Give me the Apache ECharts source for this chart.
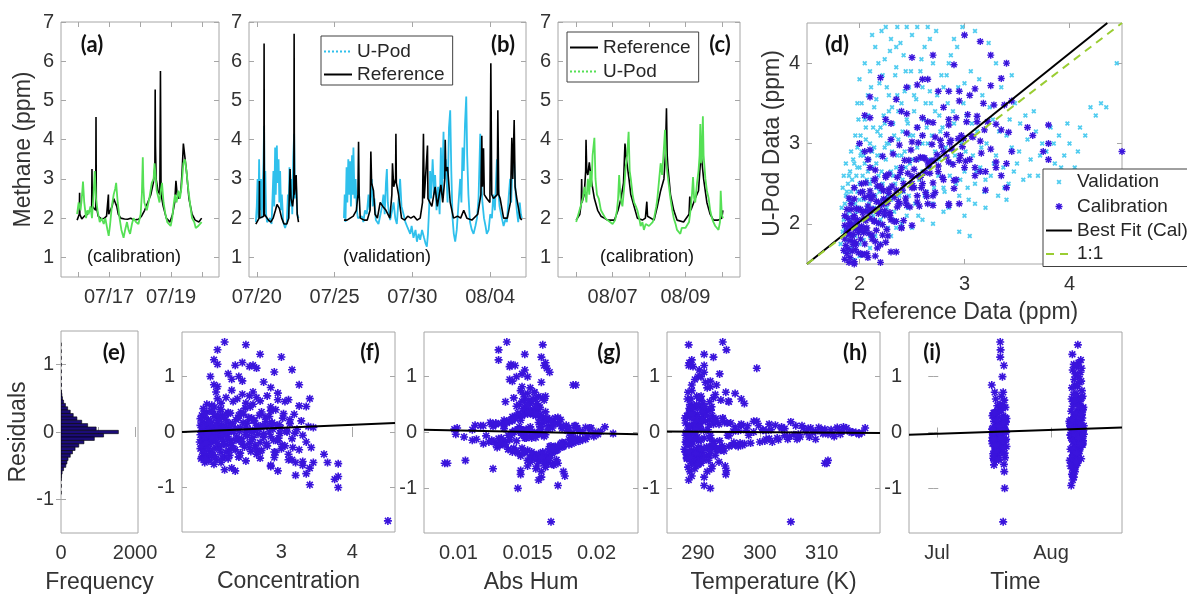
<!DOCTYPE html>
<html><head><meta charset="utf-8">
<script src="https://cdn.jsdelivr.net/npm/echarts@6/dist/echarts.min.js"></script>
<style>html,body{margin:0;padding:0;background:#fff}#c{width:1187px;height:598px}</style>
</head><body><div id="c"></div>
<script>
// ---------------- DATA ----------------
// x of time panels = day number counted from 1 July (Aug 1 = 32)
const methTicks = [1,2,3,4,5,6,7];
const aDayTicks = [16,17,18,19,20], aLabelVals = [17,19], aLabels = ['07/17','07/19'];
const bDayTicks = [20,25,30,35], bLabels = ['07/20','07/25','07/30','08/04'];
const cDayTicks = [37,38,39,40,41], cLabelVals = [38,40], cLabels = ['08/07','08/09'];
const iTicks = [1,32], iLabels = ['Jul','Aug'];

const aRef = [[15.97,1.95],[16.02,2.0],[16.04,2.1],[16.05,2.65],[16.06,2.1],[16.12,1.98],[16.2,2.05],[16.3,2.1],[16.38,2.2],[16.44,2.3],[16.45,3.25],[16.46,2.3],[16.52,2.3],[16.57,2.2],[16.58,4.58],[16.59,2.3],[16.65,2.05],[16.75,1.98],[16.85,2.0],[16.92,2.05],[16.97,2.1],[16.98,2.6],[16.99,2.1],[17.05,2.05],[17.1,2.3],[17.15,2.5],[17.2,2.55],[17.25,2.3],[17.3,2.1],[17.38,2.0],[17.5,1.98],[17.6,1.97],[17.7,2.0],[17.8,1.95],[17.95,1.97],[18.05,2.05],[18.15,2.2],[18.25,2.4],[18.35,2.6],[18.43,2.9],[18.48,3.3],[18.49,5.28],[18.5,3.85],[18.52,3.0],[18.58,2.7],[18.64,2.6],[18.66,5.75],[18.68,2.6],[18.75,2.3],[18.85,2.0],[18.97,1.9],[19.05,2.1],[19.12,2.4],[19.16,2.95],[19.2,2.6],[19.26,2.5],[19.32,2.7],[19.36,3.2],[19.4,3.9],[19.45,3.85],[19.5,3.2],[19.58,2.5],[19.68,2.1],[19.78,1.95],[19.9,1.9],[19.99,2.0]];
const aPod = [[15.97,2.1],[16.02,2.4],[16.08,2.2],[16.12,2.5],[16.16,2.93],[16.2,2.4],[16.26,2.0],[16.3,2.2],[16.34,2.1],[16.4,2.3],[16.45,2.0],[16.5,2.6],[16.54,3.2],[16.58,2.5],[16.63,2.2],[16.7,1.9],[16.76,2.0],[16.83,1.85],[16.88,2.0],[16.95,1.7],[16.99,1.55],[17.03,1.8],[17.09,2.3],[17.15,2.6],[17.2,2.75],[17.23,2.9],[17.28,2.4],[17.34,2.0],[17.4,1.7],[17.47,1.5],[17.52,1.7],[17.58,1.9],[17.63,1.7],[17.68,1.6],[17.74,1.85],[17.79,2.0],[17.87,1.9],[17.95,1.85],[18.02,2.1],[18.06,2.6],[18.09,3.55],[18.11,2.8],[18.14,2.4],[18.22,2.2],[18.3,2.5],[18.38,2.9],[18.44,3.0],[18.47,3.4],[18.51,3.0],[18.54,2.7],[18.6,2.5],[18.63,2.4],[18.67,2.7],[18.71,2.9],[18.76,2.4],[18.82,2.1],[18.88,1.9],[18.94,1.85],[18.99,1.8],[19.04,2.0],[19.08,2.3],[19.13,2.6],[19.18,2.4],[19.24,2.7],[19.29,2.5],[19.34,2.8],[19.4,3.4],[19.45,3.5],[19.5,3.2],[19.55,2.8],[19.61,2.4],[19.68,2.0],[19.75,1.9],[19.8,1.75],[19.88,1.8],[19.94,1.85],[19.99,1.9]];

const bRef = [[19.94,1.85],[20.05,1.9],[20.15,2.0],[20.17,2.95],[20.19,2.0],[20.3,1.95],[20.45,2.05],[20.47,6.45],[20.49,2.1],[20.6,2.1],[20.75,1.95],[20.9,1.9],[21.05,2.0],[21.2,2.2],[21.3,2.35],[21.45,2.25],[21.6,2.0],[21.75,1.85],[21.93,1.85],[22.05,2.0],[22.14,3.25],[22.2,2.5],[22.3,2.3],[22.38,2.6],[22.4,6.7],[22.42,2.6],[22.53,3.1],[22.6,2.1],[22.68,1.9],[24,null],[25.6,1.95],[25.8,1.95],[26.0,2.0],[26.2,2.05],[26.4,2.2],[26.5,2.6],[26.54,3.95],[26.58,2.6],[26.65,2.0],[26.9,1.95],[27.1,1.95],[27.28,2.2],[27.33,3.7],[27.38,2.9],[27.5,2.7],[27.6,2.1],[27.75,2.0],[27.93,2.4],[28.1,2.3],[28.3,2.2],[28.55,2.0],[28.68,2.6],[28.72,3.4],[28.8,2.8],[28.92,3.0],[28.94,4.15],[28.97,2.9],[29.11,2.6],[29.3,2.0],[29.5,1.95],[29.7,2.05],[29.9,2.0],[30.1,2.05],[30.3,1.95],[30.5,2.0],[30.65,2.4],[30.71,4.15],[30.76,2.5],[30.97,3.85],[31.0,2.5],[31.25,2.3],[31.46,2.8],[31.6,2.3],[31.83,2.85],[31.95,2.4],[32.08,3.0],[32.11,4.0],[32.15,3.2],[32.26,3.3],[32.43,2.4],[32.64,2.0],[32.9,2.05],[33.1,2.0],[33.3,2.2],[33.5,2.0],[33.82,1.95],[34.2,2.1],[34.4,2.6],[34.46,4.1],[34.5,2.8],[34.57,3.78],[34.62,2.6],[34.78,2.5],[34.98,2.4],[35.04,5.95],[35.1,2.6],[35.21,2.5],[35.45,2.6],[35.49,4.75],[35.55,2.6],[35.64,2.5],[35.86,2.0],[36.1,2.0],[36.3,2.4],[36.39,4.05],[36.45,3.0],[36.54,4.5],[36.6,2.8],[36.71,2.5],[36.93,2.0],[37.03,1.95]];
const bPod = [[19.94,1.9],[20.0,2.3],[20.05,3.0],[20.1,2.0],[20.15,3.5],[20.2,2.2],[20.27,3.0],[20.32,2.0],[20.38,2.8],[20.43,3.4],[20.47,4.35],[20.5,2.6],[20.55,3.2],[20.6,2.1],[20.66,1.9],[20.75,1.95],[20.86,2.0],[20.95,1.85],[21.0,2.4],[21.07,3.2],[21.12,2.3],[21.18,3.8],[21.22,2.6],[21.29,3.85],[21.33,2.9],[21.4,3.5],[21.45,2.4],[21.5,3.2],[21.56,2.2],[21.61,2.6],[21.7,1.9],[21.82,1.75],[21.93,1.9],[22.0,2.6],[22.04,2.0],[22.1,3.3],[22.16,2.3],[22.22,3.0],[22.28,2.1],[22.34,3.5],[22.4,4.15],[22.45,2.5],[22.52,2.9],[22.6,2.1],[22.68,2.0],[24,null],[25.6,2.0],[25.65,2.6],[25.7,1.9],[25.77,3.3],[25.82,2.4],[25.88,3.5],[25.95,2.6],[26.0,3.45],[26.05,2.3],[26.12,3.6],[26.16,2.6],[26.21,3.8],[26.28,2.5],[26.35,3.0],[26.43,2.2],[26.5,2.0],[26.6,1.95],[26.75,2.05],[26.85,1.9],[26.95,2.2],[27.07,2.1],[27.18,2.6],[27.25,2.2],[27.39,3.0],[27.45,2.3],[27.56,2.5],[27.65,1.95],[27.82,1.85],[27.95,2.1],[28.05,2.3],[28.14,2.6],[28.22,2.1],[28.3,2.9],[28.36,3.25],[28.42,2.4],[28.5,2.1],[28.57,1.95],[28.7,2.2],[28.79,2.4],[28.9,2.0],[29.0,1.85],[29.08,2.3],[29.21,3.0],[29.3,2.3],[29.43,2.1],[29.55,1.9],[29.7,1.75],[29.86,1.6],[29.95,1.8],[30.07,1.5],[30.2,1.7],[30.29,1.4],[30.4,1.6],[30.5,1.45],[30.62,1.7],[30.75,1.5],[30.85,1.35],[30.93,1.27],[31.0,1.6],[31.08,2.3],[31.14,3.2],[31.2,2.5],[31.3,3.5],[31.4,2.6],[31.46,3.1],[31.55,2.2],[31.65,2.8],[31.75,2.1],[31.83,3.8],[31.9,2.6],[32.0,4.2],[32.05,3.0],[32.15,3.5],[32.26,2.4],[32.35,4.3],[32.43,4.75],[32.5,3.2],[32.58,2.0],[32.66,1.6],[32.75,1.4],[32.85,1.7],[32.95,2.3],[33.07,3.0],[33.15,2.4],[33.22,3.8],[33.3,3.2],[33.38,4.4],[33.46,5.1],[33.52,3.6],[33.6,2.6],[33.7,1.9],[33.82,1.7],[33.93,1.6],[34.05,1.8],[34.15,2.0],[34.25,2.5],[34.36,4.15],[34.42,3.0],[34.5,2.4],[34.6,2.0],[34.7,1.8],[34.78,1.6],[34.9,1.7],[35.0,2.1],[35.11,2.0],[35.2,2.6],[35.3,2.2],[35.43,3.5],[35.5,2.8],[35.6,2.3],[35.75,2.0],[35.86,1.8],[36.0,2.0],[36.07,1.9],[36.18,2.5],[36.28,3.0],[36.35,2.4],[36.45,3.6],[36.5,3.9],[36.56,3.2],[36.65,2.5],[36.71,2.2],[36.8,1.9],[36.9,2.4],[36.97,2.1],[37.03,2.0]];

const cRef = [[37.0,1.95],[37.05,1.9],[37.1,2.1],[37.14,2.4],[37.15,3.0],[37.16,2.4],[37.18,2.4],[37.22,2.6],[37.26,3.2],[37.27,4.0],[37.29,3.2],[37.32,3.1],[37.36,3.42],[37.41,3.0],[37.5,2.5],[37.59,2.2],[37.68,2.05],[37.77,2.0],[37.86,1.95],[38.05,1.95],[38.15,2.2],[38.23,2.5],[38.3,2.9],[38.34,3.9],[38.38,3.5],[38.45,3.0],[38.5,2.6],[38.59,2.3],[38.68,2.0],[38.82,1.95],[38.9,2.0],[38.94,2.42],[38.96,2.05],[39.0,2.0],[39.14,1.95],[39.23,2.3],[39.32,2.7],[39.41,3.0],[39.45,3.6],[39.48,4.8],[39.5,3.6],[39.52,3.3],[39.59,2.6],[39.68,2.2],[39.77,1.95],[39.95,1.9],[40.1,2.1],[40.12,2.55],[40.15,2.2],[40.27,2.5],[40.36,2.7],[40.43,3.66],[40.5,3.0],[40.59,2.4],[40.68,2.1],[40.77,1.95],[40.9,1.95],[41.0,2.0],[41.03,2.2]];
const cPod = [[37.0,1.9],[37.05,1.85],[37.12,2.3],[37.18,2.5],[37.23,2.8],[37.28,2.4],[37.32,3.0],[37.36,2.6],[37.39,3.2],[37.42,2.8],[37.45,3.6],[37.5,4.05],[37.53,3.0],[37.57,2.6],[37.62,2.5],[37.68,2.2],[37.74,2.1],[37.8,2.0],[37.86,1.95],[37.93,1.9],[38.0,1.85],[38.07,1.95],[38.12,2.2],[38.15,2.5],[38.18,3.1],[38.22,2.5],[38.27,2.3],[38.32,2.8],[38.36,3.3],[38.4,3.6],[38.44,4.2],[38.47,3.2],[38.5,3.0],[38.55,2.6],[38.59,2.4],[38.64,2.3],[38.68,2.2],[38.73,2.0],[38.77,1.8],[38.82,1.9],[38.86,1.7],[38.91,1.85],[38.95,1.9],[39.0,1.8],[39.05,1.85],[39.1,1.9],[39.14,2.0],[39.2,2.3],[39.23,2.5],[39.28,3.0],[39.32,3.4],[39.36,3.1],[39.41,3.8],[39.44,4.25],[39.47,3.5],[39.5,3.2],[39.55,2.8],[39.59,2.5],[39.64,2.2],[39.68,2.0],[39.73,1.85],[39.77,1.7],[39.82,1.75],[39.86,1.6],[39.9,1.75],[39.95,1.8],[40.0,1.75],[40.05,1.7],[40.1,1.9],[40.14,2.2],[40.18,2.6],[40.21,3.05],[40.24,2.5],[40.27,2.4],[40.32,2.9],[40.36,3.2],[40.39,3.6],[40.41,4.4],[40.43,3.4],[40.45,3.5],[40.48,4.6],[40.5,3.6],[40.55,3.0],[40.59,2.7],[40.64,2.5],[40.68,2.2],[40.73,2.0],[40.77,1.9],[40.82,1.8],[40.86,1.75],[40.91,1.7],[40.95,1.9],[40.97,2.7],[41.0,2.1],[41.03,2.0]];

// validation points (reference, U-Pod) for panel (d)
const valPts = [[1.82,1.75],[1.84,1.9],[1.85,2.05],[1.83,2.2],[1.86,1.65],[1.87,2.35],[1.88,1.8],[1.89,2.5],[1.9,1.95],[1.9,2.15],
[1.91,2.65],[1.92,1.7],[1.93,2.3],[1.94,2.8],[1.95,2.0],[1.95,2.45],[1.96,1.85],[1.97,2.6],[1.98,2.95],[1.99,2.2],
[2.0,1.75],[2.0,2.7],[2.01,3.1],[2.02,2.4],[2.03,2.05],[2.04,2.85],[2.05,3.3],[2.06,1.9],[2.07,2.55],[2.08,3.6],
[2.09,2.25],[2.1,3.0],[2.1,3.9],[2.12,2.7],[2.13,2.1],[2.14,3.45],[2.15,4.2],[2.16,2.45],[2.17,3.15],[2.18,2.0],
[2.19,3.75],[2.2,2.85],[2.21,4.4],[2.22,2.3],[2.23,3.35],[2.24,4.05],[2.25,2.6],[2.26,3.0],[2.27,1.95],[2.28,3.6],
[2.29,2.45],[2.3,4.3],[2.31,2.9],[2.32,3.25],[2.33,2.15],[2.34,3.85],[2.35,2.7],[2.36,4.45],[2.37,3.05],[2.38,2.35],
[2.4,3.5],[2.41,2.55],[2.42,4.1],[2.43,2.9],[2.45,3.3],[2.46,2.2],[2.47,3.7],[2.48,2.75],[2.5,4.35],[2.51,3.1],
[2.52,2.45],[2.54,3.55],[2.55,2.95],[2.56,2.1],[2.58,3.9],[2.6,2.65],[2.61,3.3],[2.62,4.2],[2.64,2.4],[2.65,3.0],
[2.67,3.65],[2.68,2.8],[2.7,2.25],[2.72,3.4],[2.73,4.4],[2.75,2.6],[2.77,3.15],[2.78,3.85],[2.8,2.45],[2.82,2.95],
[2.84,3.5],[2.85,2.2],[2.87,4.1],[2.88,2.75],[2.9,3.25],[2.92,2.5],[2.94,3.7],[2.95,2.35],[2.97,3.0],[2.98,4.45],
[3.0,2.65],[3.02,3.35],[3.04,2.3],[3.06,3.9],[3.08,2.85],[3.1,2.5],[3.12,3.15],[3.15,2.7],[3.17,3.6],[3.19,2.4],
[3.21,3.0],[3.23,4.25],[3.25,2.6],[3.27,3.3],[3.3,2.85],[3.32,2.35],[3.35,3.7],[3.37,2.7],[3.4,3.1],[3.42,2.5],
[3.45,2.95],[3.48,3.5],[3.5,2.75],[3.53,3.25],[3.56,2.55],[3.6,3.05],[3.63,2.8],[3.66,3.4],[3.7,2.6],[3.74,3.0],
[3.78,2.9],[3.82,3.2],[3.86,2.75],[3.9,3.1],[3.95,2.85],[4.0,3.0],[4.05,2.7],[4.1,3.2],[4.2,3.45],[4.25,3.35],
[4.3,3.5],[4.45,4.0],[2.4,2.0],[2.6,2.05],[2.8,2.15],[3.0,2.1],[3.1,2.25],[2.5,1.95],[2.3,1.85],[2.2,1.75],
[2.1,1.7],[2.0,1.6],[1.95,1.55],[2.15,1.85],[2.7,2.0],[3.2,2.2],[3.4,2.3],[2.95,1.9],[3.05,1.85],
[1.88,2.1],[1.92,2.4],[1.96,2.25],[2.0,2.5],[2.04,2.3],[2.08,2.65],[2.12,2.9],[2.16,2.75],[2.2,3.2],[2.24,2.95],
[2.28,3.4],[2.32,2.6],[2.36,3.6],[2.4,2.85],[2.44,3.9],[2.48,3.1],[2.52,3.4],[2.56,2.8],[2.6,3.7],[2.64,3.2],
[2.68,3.5],[2.72,2.9],[2.76,3.35],[2.8,3.7],[1.86,1.95],[1.9,2.3],[1.94,2.1],[1.98,2.4],[2.02,2.9],[2.06,3.2],
[2.1,2.5],[2.14,2.2],[2.18,2.6],[2.22,2.5],[2.26,2.2],[2.3,2.3],
[2.05,4.0],[2.12,4.35],[1.98,3.5],[2.0,3.8],[2.35,4.2],[2.55,4.45],[2.7,4.0],[2.9,4.3],[3.1,4.4],[2.45,4.45],
[3.3,4.0],[3.45,3.85],[2.85,4.0],[2.65,4.45],[2.25,4.45],[3.0,3.75],
[1.84,2.45],[1.85,2.6],[1.86,2.25],[1.87,2.75],[1.88,2.4],[1.89,1.85],[1.9,2.6],[1.91,2.05],[1.92,2.9],[1.93,2.55],
[1.94,1.95],[1.95,2.75],[1.96,3.1],[1.97,2.15],[1.98,2.7],[1.99,3.3],[2.0,2.3],[2.01,2.85],[2.02,3.5],[2.03,2.6],
[2.04,1.8],[2.05,2.75],[2.06,3.05],[2.07,2.2],[2.08,3.35],[2.09,2.8],[2.1,2.35],[2.11,3.7],[2.12,2.55],[2.13,3.2],
[2.14,2.95],[2.15,2.35],[2.16,3.55],[2.17,2.85],[2.18,4.0],[2.19,2.4],[2.2,3.1],[2.21,2.65],[2.22,3.85],[2.23,2.1],
[2.24,3.25],[2.25,2.8],[2.26,3.7],[2.27,2.35],[2.28,3.0],[2.29,4.15],[2.3,2.65],[2.31,3.45],[2.32,2.05],[2.33,3.1],
[2.34,2.5],[2.35,3.95],[2.36,2.85],[2.37,3.4],[2.38,2.6],[2.39,4.25],[2.41,3.15],[2.42,2.4],[2.43,3.65],[2.44,2.7],
[2.46,3.25],[2.47,2.35],[2.49,3.9],[2.5,2.8],[2.52,3.6],[2.53,2.25],[2.55,3.2],[2.57,2.55],[2.59,4.05],[2.6,3.0],
[2.62,2.35],[2.63,3.5],[2.66,2.7],[2.67,4.3],[2.69,3.1],[2.71,2.45],[2.74,3.6],[2.76,2.8],[2.79,3.2],[2.81,2.4],
[2.83,3.85],[2.86,2.6],[2.89,3.4],[2.91,2.85],[2.93,4.2],[2.96,2.55],[2.99,3.5],[3.01,2.9],[3.03,2.45],[3.07,3.25],
[3.11,2.65],[3.14,3.8],[3.16,2.95],[3.2,2.55],[3.24,3.45],[3.28,2.75],[3.33,3.15],[3.38,2.45],[3.43,3.3],[3.47,2.65],
[3.52,2.9],[3.58,3.35],[3.62,2.6],[3.68,3.15],[3.72,2.85],[3.8,2.55],[3.85,3.0],[3.92,2.7],[3.98,3.25],[4.08,2.9],
[4.15,3.1],[4.35,3.45],[1.9,1.65],[1.95,1.75],[2.0,1.95],[2.05,2.15],[2.1,1.85],[2.2,2.05],[2.35,1.95],[2.45,2.1]];

// calibration points: reference conc., U-Pod conc., residual, abs. humidity, temperature (K), day
const calRef = [2.20,2.50,2.10,2.70,3.00,2.05,2.45,2.10,2.35,2.60,2.55,2.65,3.15,2.90,2.25,2.00,2.40,2.30,2.45,2.75,2.05,3.25,2.10,2.85,2.30,2.60,2.95,2.80,2.65,3.40,2.10,2.95,3.05,2.50,
4.50,3.80,3.40,3.75,3.80,3.20,3.35,2.35,2.95,2.20,3.40,2.30,2.85,3.30,3.80,3.65,3.20,2.15,3.45,3.10,1.95,3.60,
1.92,1.97,1.88,1.95,1.90,1.99,1.86,1.93,1.97,1.89,1.95,1.87,1.91,1.99,1.94,1.86,1.90,1.96,1.88,1.93,1.98,1.91,1.86,1.95,1.89,1.97,1.92,1.88,1.95,1.90,
2.08,2.20,2.03,2.15,2.26,2.05,2.12,2.22,2.01,2.18,2.29,2.07,2.14,2.24,2.02,2.10,2.19,2.27,2.04,2.13,2.23,2.06,2.16,2.28,2.01,2.11,2.21,2.09,2.17,2.25,2.03,2.14,2.06,2.30,2.25,
2.40,2.65,2.90,2.35,2.55,2.80,2.45,2.70,2.95,2.38,2.60,2.85,2.50,2.75,2.33,2.62,2.88,2.42,2.68,2.97,2.52,2.78,2.36,2.58,2.83,2.47,2.72,2.92,2.56,3.00,2.44,2.66,2.86,2.55,2.40,2.98,2.80,2.70,2.62,2.50,
3.10,3.25,3.05,3.35,3.15,3.30,3.08,3.22,3.38,3.12,3.28,3.02,3.18,3.42,3.45,
1.87,1.91,1.85,1.93,1.89,1.94,1.86,1.92,1.88,1.90, 1.98,2.02,1.96,2.04,2.00,1.97,2.03,1.99,2.05,2.01,
2.07,2.12,2.09,2.14,2.06,2.11,2.08,2.13,2.10,2.15, 2.17,2.22,2.16,2.24,2.19,2.21,2.18,2.23,2.20,2.25,
2.27,2.33,2.29,2.37,2.26,2.35,2.31,2.39,2.28,2.36, 2.42,2.48,2.44,2.52,2.41,2.50,2.46,2.54,2.43,2.49,
2.57,2.63,2.59,2.67,2.56,2.65,2.61,2.69,2.64,2.58, 2.72,2.79,2.75,2.83,2.71,2.87,2.77,2.85,2.89,2.74,
2.92,3.01,2.96,3.07,2.94,3.12,3.03,3.16,2.99,3.19, 1.94,2.06,2.18,1.88,2.12,2.28,2.02,2.23,1.96,2.09,
2.02,2.15,2.32,2.60,2.22,2.45,2.85,3.10,2.08,3.25,2.55,1.95,2.70,3.35,2.38,
2.25,2.50,2.90,3.15,2.05,2.70,3.30,1.93,2.40,2.85];
const calPod = [3.82,4.07,3.58,4.10,4.35,3.35,3.70,3.32,3.55,3.80,3.73,3.80,4.27,3.98,3.30,3.00,3.40,3.25,3.37,3.65,2.90,4.10,2.92,3.65,3.05,3.32,3.65,3.45,3.27,4.00,2.70,3.53,3.60,3.02,
2.90,2.80,2.45,2.90,3.00,2.42,2.60,1.65,2.25,1.52,2.75,1.65,2.23,2.70,3.23,3.10,2.65,1.60,2.90,2.60,1.50,3.20,
1.37,1.47,1.43,1.53,1.52,1.64,1.56,1.66,1.75,1.69,1.78,1.73,1.79,1.89,1.87,1.81,1.87,1.96,1.90,1.98,2.05,2.01,1.98,2.10,2.07,2.19,2.18,2.18,2.31,2.32,
1.58,1.74,1.62,1.78,1.93,1.75,1.86,1.99,1.81,2.01,2.14,1.95,2.04,2.16,1.97,2.07,2.18,2.28,2.07,2.18,2.31,2.16,2.28,2.43,2.18,2.31,2.44,2.35,2.47,2.58,2.40,2.54,2.51,2.05,2.30,
1.95,2.25,2.54,2.03,2.27,2.55,2.23,2.51,2.79,2.25,2.50,2.77,2.45,2.72,2.33,2.64,2.93,2.50,2.78,3.10,2.68,2.97,2.58,2.83,3.11,2.79,3.08,3.32,3.01,2.70,2.32,2.72,3.01,2.35,2.70,2.96,2.90,2.35,2.82,2.50,
2.70,2.93,2.80,3.17,3.03,3.24,3.08,3.27,3.48,3.27,3.48,3.27,3.50,3.14,3.53,
1.39,1.58,1.67,1.85,1.92,2.07,2.10,2.25,1.63,1.98, 1.46,1.62,1.68,1.89,1.94,2.01,2.14,2.18,2.33,2.39,
1.63,1.81,1.88,2.03,2.04,2.17,2.22,2.35,2.41,2.56, 1.70,1.86,1.92,2.11,2.15,2.24,2.27,2.41,2.47,2.60,
1.85,2.03,2.10,2.28,2.26,2.42,2.47,2.64,2.62,2.21, 2.04,2.21,2.27,2.45,2.42,2.59,2.63,2.80,2.79,2.92,
2.22,2.39,2.45,2.63,2.60,2.77,2.82,2.99,2.34,2.58, 2.39,2.58,2.65,2.83,2.79,3.04,3.04,3.23,2.74,2.86,
2.55,2.78,2.85,3.09,3.06,3.34,3.36,2.88,3.06,3.17, 1.74,1.94,2.13,1.88,2.17,2.38,1.92,2.25,1.93,2.15,
2.50,2.67,2.87,3.10,2.84,3.13,3.30,3.68,2.80,3.72,3.20,2.45,3.26,3.81,2.98,
1.77,1.98,2.44,2.65,1.47,2.23,2.77,1.44,1.95,2.25];
const calRes = [1.62,1.57,1.48,1.40,1.35,1.30,1.25,1.22,1.20,1.20,1.18,1.15,1.12,1.08,1.05,1.00,1.00,0.95,0.92,0.90,0.85,0.85,0.82,0.80,0.75,0.72,0.70,0.65,0.62,0.60,0.60,0.58,0.55,0.52,
-1.60,-1.00,-0.95,-0.85,-0.80,-0.78,-0.75,-0.70,-0.70,-0.68,-0.65,-0.65,-0.62,-0.60,-0.57,-0.55,-0.55,-0.55,-0.55,-0.50,-0.45,-0.40,
-0.55,-0.50,-0.45,-0.42,-0.38,-0.35,-0.30,-0.27,-0.22,-0.20,-0.17,-0.14,-0.12,-0.10,-0.07,-0.05,-0.03,0.00,0.02,0.05,0.07,0.10,0.12,0.15,0.18,0.22,0.26,0.30,0.36,0.42,
-0.50,-0.46,-0.41,-0.37,-0.33,-0.30,-0.26,-0.23,-0.20,-0.17,-0.15,-0.12,-0.10,-0.08,-0.05,-0.03,-0.01,0.01,0.03,0.05,0.08,0.10,0.12,0.15,0.17,0.20,0.23,0.26,0.30,0.33,0.37,0.40,0.45,-0.25,0.05,
-0.45,-0.40,-0.36,-0.32,-0.28,-0.25,-0.22,-0.19,-0.16,-0.13,-0.10,-0.08,-0.05,-0.03,0.00,0.02,0.05,0.08,0.10,0.13,0.16,0.19,0.22,0.25,0.28,0.32,0.36,0.40,0.45,-0.30,-0.12,0.06,0.15,-0.20,0.30,-0.02,0.10,-0.35,0.20,0.00,
-0.40,-0.32,-0.25,-0.18,-0.12,-0.06,0.00,0.05,0.10,0.15,0.20,0.25,0.32,-0.28,0.08,
-0.48,-0.33,-0.18,-0.08,0.03,0.13,0.24,0.33,-0.25,0.08, -0.52,-0.40,-0.28,-0.15,-0.06,0.04,0.11,0.19,0.28,0.38,
-0.44,-0.31,-0.21,-0.11,-0.02,0.06,0.14,0.22,0.31,0.41, -0.47,-0.36,-0.24,-0.13,-0.04,0.03,0.09,0.18,0.27,0.35,
-0.42,-0.30,-0.19,-0.09,0.00,0.07,0.16,0.25,0.34,-0.15, -0.38,-0.27,-0.17,-0.07,0.01,0.09,0.17,0.26,0.36,0.43,
-0.35,-0.24,-0.14,-0.04,0.04,0.12,0.21,0.30,-0.30,0.00, -0.33,-0.21,-0.10,0.00,0.08,0.17,0.27,0.38,-0.15,0.12,
-0.37,-0.23,-0.11,0.02,0.12,0.22,0.33,-0.28,0.07,-0.02, -0.20,-0.12,-0.05,0.00,0.05,0.10,-0.10,0.02,-0.03,0.06,
0.48,0.52,0.55,0.50,0.62,0.68,0.45,0.58,0.72,0.47,0.65,0.50,0.56,0.46,0.60,
-0.48,-0.52,-0.46,-0.50,-0.58,-0.47,-0.53,-0.49,-0.45,-0.60];
const calHum = [0.0135,0.0161,0.0129,0.0148,0.0160,0.0129,0.0163,0.0138,0.0141,0.0162,0.0137,0.0164,0.0148,0.0166,0.0146,0.0142,0.0150,0.0137,0.0139,0.0160,0.0183,0.0185,0.0146,0.0152,0.0145,0.0155,0.0150,0.0158,0.0140,0.0156,0.0148,0.0162,0.0134,0.0152,
0.0167,0.0143,0.0172,0.0158,0.0160,0.0177,0.0145,0.0176,0.0160,0.0145,0.0156,0.0125,0.0163,0.0150,0.0168,0.0090,0.0092,0.0172,0.0165,0.0105,0.0159,0.0154,
0.0162,0.0150,0.0157,0.0145,0.0168,0.0139,0.0172,0.0128,0.0180,0.0118,0.0185,0.0110,0.0192,0.0148,0.0198,0.0136,0.0201,0.0157,0.0188,0.0143,0.0175,0.0152,0.0165,0.0124,0.0158,0.0133,0.0170,0.0142,0.0153,0.0147,
0.0165,0.0152,0.0160,0.0143,0.0170,0.0136,0.0175,0.0130,0.0182,0.0122,0.0188,0.0113,0.0153,0.0104,0.0146,0.0098,0.0161,0.0139,0.0179,0.0150,0.0168,0.0144,0.0185,0.0127,0.0161,0.0135,0.0174,0.0140,0.0156,0.0148,0.0163,0.0151,0.0158,0.0166,0.0145,
0.0155,0.0166,0.0148,0.0171,0.0140,0.0176,0.0133,0.0181,0.0125,0.0187,0.0149,0.0193,0.0138,0.0199,0.0155,0.0203,0.0144,0.0186,0.0160,0.0178,0.0131,0.0169,0.0138,0.0163,0.0144,0.0159,0.0152,0.0149,0.0157,0.0167,0.0190,0.0097,0.0173,0.0129,0.0146,0.0212,0.0206,0.0161,0.0137,0.0183,
0.0160,0.0150,0.0172,0.0134,0.0180,0.0120,0.0190,0.0110,0.0176,0.0127,0.0165,0.0141,0.0154,0.0169,0.0195,
0.0158,0.0142,0.0175,0.0151,0.0147,0.0112,0.0166,0.0150,0.0170,0.0099, 0.0163,0.0155,0.0146,0.0132,0.0154,0.0141,0.0125,0.0168,0.0139,0.0157,
0.0152,0.0171,0.0127,0.0186,0.0158,0.0149,0.0133,0.0162,0.0145,0.0154, 0.0161,0.0147,0.0167,0.0137,0.0163,0.0145,0.0192,0.0123,0.0159,0.0143,
0.0164,0.0136,0.0176,0.0156,0.0199,0.0133,0.0170,0.0141,0.0155,0.0184, 0.0158,0.0169,0.0130,0.0162,0.0140,0.0180,0.0135,0.0164,0.0151,0.0147,
0.0153,0.0172,0.0124,0.0194,0.0152,0.0184,0.0139,0.0160,0.0166,0.0145, 0.0165,0.0134,0.0183,0.0159,0.0196,0.0127,0.0172,0.0151,0.0142,0.0116,
0.0161,0.0175,0.0129,0.0148,0.0118,0.0145,0.0156,0.0168,0.0186,0.0139, 0.0174,0.0137,0.0181,0.0153,0.0144,0.0159,0.0131,0.0150,0.0160,0.0165,
0.0149,0.0157,0.0153,0.0144,0.0161,0.0147,0.0159,0.0151,0.0155,0.0142,0.0163,0.0150,0.0146,0.0156,0.0154,
0.0163,0.0158,0.0166,0.0161,0.0169,0.0155,0.0152,0.0171,0.0160,0.0157];
const calTemp = [294.0,288.5,294.6,291.0,292.5,289.0,288.6,288.8,291.0,288.5,289.2,299.5,290.2,291.0,293.5,290.5,290.0,289.5,292.0,291.2,289.0,293.0,292.0,291.5,289.0,294.5,296.0,289.8,292.5,288.3,297.0,290.5,295.0,297.5,
305.0,292.0,291.0,288.5,291.0,289.0,294.5,288.7,291.5,294.6,289.5,292.2,288.4,294.4,290.0,310.5,310.8,290.5,289.2,311.0,288.2,290.0,
289.0,290.5,288.2,291.8,289.6,288.0,293.0,290.0,296.0,288.5,302.0,289.0,306.0,291.0,312.0,288.0,316.0,289.5,309.0,290.5,304.0,288.8,298.0,292.5,289.5,290.0,294.0,288.3,291.0,289.0,
290.2,288.4,292.8,289.3,294.2,287.8,291.4,295.5,288.9,300.0,290.1,304.5,289.6,308.0,292.0,313.0,288.6,315.0,301.0,291.6,307.0,289.1,297.0,293.4,288.0,299.0,290.8,287.9,292.3,289.9,291.1,288.7,290.4,296.5,310.0,
289.4,291.7,288.1,293.6,290.6,295.0,288.9,298.5,292.6,303.0,289.8,306.5,294.8,311.0,288.4,314.5,300.5,317.0,296.0,302.5,290.3,305.0,291.9,294.0,289.2,290.9,288.6,292.1,289.7,293.1,309.0,312.5,301.5,297.5,288.2,316.0,313.5,290.0,299.5,307.5,
290.8,289.0,292.4,295.8,301.0,304.0,308.5,311.5,303.5,297.0,291.2,290.1,288.8,293.8,314.0,
289.3,290.7,288.1,289.9,291.3,288.7,290.2,289.1,292.1,288.4, 288.9,290.3,291.5,288.2,295.0,300.5,289.7,292.8,288.6,290.9,
289.5,293.2,288.3,301.5,289.0,310.5,291.8,290.6,288.9,291.4, 290.1,288.5,292.6,289.4,305.5,296.5,312.5,294.3,289.6,288.8,
291.0,289.8,296.8,288.5,315.5,303.5,290.4,292.9,289.1,300.8, 289.9,292.3,288.0,304.8,299.0,309.5,294.7,289.3,290.7,288.6,
288.7,293.9,290.5,311.8,297.8,306.8,289.5,291.6,290.2,316.5, 292.0,288.3,302.8,314.8,308.2,295.3,289.0,290.8,293.5,299.8,
289.6,297.2,291.9,313.2,305.8,292.7,288.9,294.1,307.8,310.2, 292.4,289.2,298.2,288.1,301.8,290.3,288.6,295.7,306.2,289.7,
289.4,290.8,291.9,288.7,290.2,292.8,289.3,293.7,288.4,291.1,290.5,289.8,294.9,292.2,288.9,
289.1,290.4,288.6,291.7,289.9,288.2,293.4,290.9,288.8,292.3];
const calDay = [18.2,39.3,18.3,37.8,18.2,40.1,39.5,38.2,19.2,39.0,38.9,40.3,37.9,40.0,38.6,18.8,39.6,38.3,40.2,39.8,15.9,38.5,39.2,37.7,40.4,19.0,38.8,18.5,39.4,40.0,37.6,19.3,38.1,39.7,
19.0,19.4,37.5,37.9,38.2,38.0,37.7,19.3,38.5,38.1,38.4,37.8,38.6,38.3,19.2,38.9,38.7,39.2,37.6,39.0,17.8,38.0,
38.4,17.1,38.9,16.4,39.5,18.0,37.3,16.9,40.6,17.5,38.0,19.6,40.2,16.2,39.1,18.4,40.8,17.7,38.6,16.6,39.9,19.0,37.2,17.3,38.8,18.7,40.5,16.1,39.3,17.9,
37.1,16.3,38.2,19.4,39.7,17.0,40.0,18.6,38.5,16.8,40.7,19.8,37.5,17.6,39.2,18.1,40.4,16.0,37.9,19.1,38.3,17.4,40.9,18.8,39.0,16.5,37.4,19.5,38.7,17.2,39.6,18.3,40.1,16.7,38.0,
38.6,16.9,39.4,18.2,37.7,19.9,40.3,17.8,38.1,16.4,39.8,18.9,37.3,17.1,40.6,19.3,38.9,16.2,39.5,18.0,37.6,19.7,40.2,17.3,38.4,16.6,39.1,18.5,40.8,17.9,37.8,19.0,38.2,16.1,39.9,17.5,40.5,18.7,37.0,16.8,
38.3,17.3,39.6,18.4,40.0,16.3,38.8,19.5,37.4,17.7,39.3,18.6,40.4,17.0,38.6,
16.5,39.0,17.6,40.3,18.3,37.5,19.2,38.7,16.9,39.8, 38.1,17.2,39.7,16.0,40.1,18.9,37.6,19.7,38.5,17.4,
16.8,38.4,18.6,40.5,17.3,39.1,19.4,37.9,16.2,40.7, 39.4,16.6,38.8,18.1,37.3,19.6,40.2,17.7,38.2,16.4,
38.0,17.5,40.6,16.1,39.3,18.5,37.1,19.9,38.6,17.0, 16.3,38.9,18.8,40.0,17.9,37.4,19.1,39.5,16.7,40.4,
39.2,17.8,38.3,16.5,40.8,18.2,37.7,19.0,38.1,17.6, 17.1,39.9,18.4,38.0,16.8,40.1,19.5,37.5,38.7,17.3,
38.9,16.9,39.6,18.7,37.2,17.4,40.3,19.3,38.4,16.2, 40.0,16.4,38.6,19.8,37.8,17.7,39.5,18.0,40.9,16.0,
17.4,38.7,39.8,18.1,40.3,38.1,19.6,39.0,16.7,37.9,40.6,18.9,38.4,39.4,17.0,
38.2,39.1,37.6,38.5,16.5,40.2,38.9,17.8,19.5,37.3];

// fitted lines (end points)
const bestFit = [[1.5,1.5],[4.36,4.5]];
const oneToOne = [[1.5,1.5],[4.5,4.5]];
const fFit = [[1.6,0.0],[4.6,0.16]];
const gFit = [[0.0075,0.05],[0.023,-0.03]];
const hFit = [[285,0.02],[319.4,-0.01]];
const iFit = [[-6.6,-0.04],[51.3,0.09]];

// residual histogram
const histBinWidth = 0.05;
const histCenters = [1.3,1.2,1.1,1.0,0.9,0.8,0.7,0.6,0.55,0.5,0.45,0.4,0.35,0.3,0.25,0.2,0.15,0.1,0.05,0.0,-0.05,-0.1,-0.15,-0.2,-0.25,-0.3,-0.35,-0.4,-0.45,-0.5,-0.55,-0.6,-0.65,-0.7,-0.8,-0.9];
const histCounts = [2,3,4,5,6,8,10,15,25,40,70,120,180,250,330,430,560,720,950,1550,1150,900,620,480,380,310,250,190,160,130,70,30,15,8,5,3];

// ---------------- STYLE ----------------
const FONT = '"Liberation Sans", Arial, Helvetica, sans-serif';
const TXT = '#333333';
const BOX = '#a6a6a6';
const GREEN = '#55e055', CYAN = '#2fc0ec', VCYAN = '#52cdf0', PURPLE = '#3a14dc', NAVY = '#1c0c78', YG = '#9acd32';
const AST = 'path://M4,0H6V10H4Z M0,4H10V6H0Z M2,0.6L9.4,8L8,9.4L0.6,2Z M8,0.6L9.4,2L2,9.4L0.6,8Z';
const XMK = 'path://M2.5,0L10,7.5L7.5,10L0,2.5Z M7.5,0L10,2.5L2.5,10L0,7.5Z';
const VAL_ICON = 'path://M0,0 M26,20 M11.75,7.5L15.5,11.25L14.25,12.5L10.5,8.75Z M14.25,7.5L15.5,8.75L11.75,12.5L10.5,11.25Z';
const CAL_ICON = 'path://M0,0 M26,20 M12.3,6.5H13.7V13.5H12.3Z M9.5,9.3H16.5V10.7H9.5Z M10.9,6.92L16.08,12.1L15.1,13.08L9.92,7.9Z M15.1,6.92L16.08,7.9L10.9,13.08L9.92,12.1Z';

const gridBoxes = [
  [61,22,158,255],[249,22,277,255],[558,22,182,255],[807,23,315,241],
  [61,331,77,202],[182,332,213,200],[424,332,214,201],[667,332,213,201],[909,332,213,201]
];
const grid = gridBoxes.map(b => ({left:b[0], top:b[1], width:b[2], height:b[3], show:true, borderColor:BOX, borderWidth:1, backgroundColor:'#fff', containLabel:false}));

const numLab = v => v.map(String);
const axisSpec = [
  {x:[15.45,20.55], xt:aDayTicks, xl:[aLabelVals,aLabels], y:[0.5,7], yt:methTicks, yn:'Methane (ppm)', yg:26},
  {x:[19.5,37.3], xt:bDayTicks, xl:[bDayTicks,bLabels], y:[0.5,7], yt:methTicks},
  {x:[36.5,41.5], xt:cDayTicks, xl:[cLabelVals,cLabels], y:[0.5,7], yt:methTicks},
  {x:[1.5,4.5], xt:[2,3,4], y:[1.5,4.5], yt:[2,3,4], xn:'Reference Data (ppm)', xg:37, yn:'U-Pod Data (ppm)', yg:23},
  {x:[0,2080], xt:[0,1000,2000], xl:[[0,2000],['0','2000']], y:[-1.5,1.5], yt:[-1,0,1], xn:'Frequency', xg:38, yn:'Residuals', yg:31},
  {x:[1.6,4.6], xt:[2,3,4], y:[-1.8,1.8], yt:[-1,0,1], xn:'Concentration', xg:38},
  {x:[0.0075,0.023], xt:[0.01,0.015,0.02], y:[-1.8,1.8], yt:[-1,0,1], xn:'Abs Hum', xg:38},
  {x:[285,319.4], xt:[290,300,310], y:[-1.8,1.8], yt:[-1,0,1], xn:'Temperature (K)', xg:38},
  {x:[-6.6,51.3], xt:iTicks, xl:[iTicks,iLabels], y:[-1.8,1.8], yt:[-1,0,1], xn:'Time', xg:38}
];
const xAxis = [], yAxis = [];
const nameStyle = {fontSize:23, fontFamily:FONT, color:TXT};
function fmt(vals, txt) { return v => { for (let k = 0; k < vals.length; k++) if (Math.abs(vals[k]-v) < 1e-9) return txt[k]; return ''; }; }
function tick(vals) { return {show:true, inside:true, length:5, customValues:vals, lineStyle:{color:BOX, width:1}}; }
axisSpec.forEach((s, g) => {
  const xl = s.xl || [s.xt, numLab(s.xt)];
  const yl = s.yl || [s.yt, numLab(s.yt)];
  const base = {gridIndex:g, type:'value', axisLine:{show:false}, splitLine:{show:false}, axisPointer:{show:false}};
  xAxis.push(Object.assign({}, base, {position:'bottom', min:s.x[0], max:s.x[1], axisTick:tick(s.xt),
    axisLabel:{show:true, customValues:xl[0], formatter:fmt(xl[0], xl[1]), margin:10, fontSize:20, fontFamily:FONT, color:TXT},
    name:s.xn || '', nameLocation:'middle', nameGap:s.xg || 30, nameTextStyle:nameStyle}));
  xAxis.push(Object.assign({}, base, {position:'top', min:s.x[0], max:s.x[1], axisTick:tick(s.xt), axisLabel:{show:false}}));
  yAxis.push(Object.assign({}, base, {position:'left', min:s.y[0], max:s.y[1], axisTick:tick(s.yt),
    axisLabel:{show:true, customValues:yl[0], formatter:fmt(yl[0], yl[1]), margin:7, fontSize:20, fontFamily:FONT, color:TXT},
    name:s.yn || '', nameLocation:'middle', nameGap:s.yg || 30, nameTextStyle:nameStyle}));
  yAxis.push(Object.assign({}, base, {position:'right', min:s.y[0], max:s.y[1], axisTick:tick(s.yt), axisLabel:{show:false}}));
});

const pts = (xs, ys) => xs.map((x, i) => [x, ys[i]]);
function line(g, name, data, color, width, type) {
  return {type:'line', name, xAxisIndex:2*g, yAxisIndex:2*g, data, symbol:'none', showSymbol:false,
    lineStyle:{color, width, type:type || 'solid'}, itemStyle:{color}, clip:true, connectNulls:false,
    animation:false, silent:true, emphasis:{disabled:true}};
}
function scat(g, name, data, color, symbol, size) {
  return {type:'scatter', name, xAxisIndex:2*g, yAxisIndex:2*g, data, symbol, symbolSize:size,
    itemStyle:{color, opacity:1}, clip:true, animation:false, silent:true, emphasis:{disabled:true}};
}

const series = [
  line(0, 'aRef', aRef, '#000', 1.6), line(0, 'aPod', aPod, GREEN, 1.8),
  line(1, 'bPod', bPod, CYAN, 1.8), line(1, 'bRef', bRef, '#000', 1.6),
  line(2, 'cRef', cRef, '#000', 1.6), line(2, 'cPod', cPod, GREEN, 1.8),
  scat(3, 'Validation', valPts, VCYAN, XMK, 5),
  scat(3, 'Calibration', pts(calRef, calPod), PURPLE, AST, 7),
  line(3, 'Best Fit (Cal)', bestFit, '#000', 2),
  line(3, '1:1', oneToOne, YG, 2, [8, 6]),
  {type:'custom', name:'hist', xAxisIndex:8, yAxisIndex:8, data:pts(histCounts, histCenters), encode:{x:0, y:1},
    animation:false, silent:true, clip:true,
    renderItem:(p, api) => {
      const c = api.value(1), n = api.value(0);
      const p0 = api.coord([0, c + histBinWidth/2]), p1 = api.coord([n, c - histBinWidth/2]);
      return {type:'rect', shape:{x:p0[0], y:p0[1], width:p1[0]-p0[0], height:p1[1]-p0[1]},
        style:{fill:NAVY, stroke:'#000', lineWidth:0.6}};
    }},
  scat(5, 'fRes', pts(calRef, calRes), PURPLE, AST, 8), line(5, 'fFit', fFit, '#000', 2),
  scat(6, 'gRes', pts(calHum, calRes), PURPLE, AST, 8), line(6, 'gFit', gFit, '#000', 2),
  scat(7, 'hRes', pts(calTemp, calRes), PURPLE, AST, 8), line(7, 'hFit', hFit, '#000', 2),
  scat(8, 'iRes', pts(calDay, calRes), PURPLE, AST, 8), line(8, 'iFit', iFit, '#000', 2)
];

const seriesLabel = {aRef:'Reference', aPod:'U-Pod', bRef:'Reference', bPod:'U-Pod', cRef:'Reference', cPod:'U-Pod'};
const noSym = {color:'rgba(0,0,0,0)', borderColor:'rgba(0,0,0,0)', borderWidth:0, opacity:0};
const legBase = {orient:'vertical', itemWidth:28, itemHeight:20, selectedMode:false, borderColor:'#404040', borderWidth:1,
  backgroundColor:'#fff', borderRadius:0, textStyle:{fontSize:19, fontFamily:FONT, color:'#262626'},
  formatter:n => seriesLabel[n] || n};
const legend = [
  Object.assign({}, legBase, {left:321, top:36, padding:[6,8,1,2], itemGap:4,
    data:[{name:'bPod', itemStyle:noSym, lineStyle:{type:'dotted', width:2}}, {name:'bRef', itemStyle:noSym}]}),
  Object.assign({}, legBase, {left:567, top:32, padding:[6,8,1,2], itemGap:5,
    data:[{name:'cRef', itemStyle:noSym}, {name:'cPod', itemStyle:noSym, lineStyle:{type:'dotted', width:2}}]}),
  Object.assign({}, legBase, {left:1043, top:169, itemWidth:26, padding:[3,20,3,2], itemGap:4.5,
    data:[{name:'Validation', icon:VAL_ICON}, {name:'Calibration', icon:CAL_ICON},
          {name:'Best Fit (Cal)', itemStyle:noSym}, {name:'1:1', itemStyle:noSym}]})
];

function T(text, x, y, font) {
  return {type:'text', x, y, silent:true, style:{text, font, fill:'#111', align:'center', verticalAlign:'middle', textAlign:'center', textVerticalAlign:'middle'}};
}
const PL = 'bold 22px Lato, "Open Sans", sans-serif';
const AN = '18px ' + FONT;
const graphic = [
  T('(a)', 92, 45, PL), T('(b)', 503, 45, PL), T('(c)', 720, 45, PL), T('(d)', 837, 45, PL),
  T('(e)', 114, 353, PL), T('(f)', 370, 353, PL), T('(g)', 609, 353, PL), T('(h)', 855, 353, PL), T('(i)', 932, 353, PL),
  T('(calibration)', 134, 257, AN), T('(validation)', 387, 257, AN), T('(calibration)', 647, 257, AN)
];

const chart = echarts.init(document.getElementById('c'), null, {renderer:'canvas'});
chart.setOption({animation:false, backgroundColor:'#fff', grid, xAxis, yAxis, series, legend, graphic, tooltip:{show:false}});
</script></body></html>
